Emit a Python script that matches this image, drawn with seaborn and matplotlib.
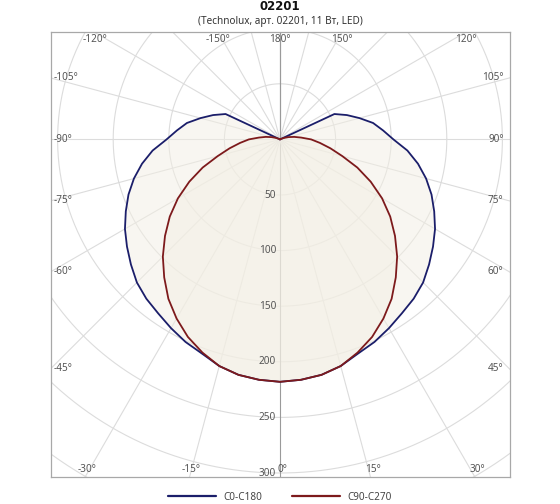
import numpy as np
import pandas as pd
import matplotlib
matplotlib.use("Agg")
import matplotlib.pyplot as plt
from matplotlib.lines import Line2D
import seaborn as sns

# ---------------- data ----------------
title = "02201"
subtitle = "(Technolux, арт. 02201, 11 Вт, LED)"
angles = list(range(0, 181, 5))  # gamma angle, degrees (0 = down)
c0_c180 = [218, 217, 215, 211, 205, 201, 196, 191, 187, 182, 175, 168, 161,
           153, 145, 136, 126, 115, 102, 93, 85, 74, 64, 54, 0, 0, 0, 0, 0,
           0, 0, 0, 0, 0, 0, 0, 0]
c90_c270 = [218, 217, 215, 211, 204, 196, 186, 175, 162, 149, 135, 121, 106,
            90, 74, 58, 46, 36, 28, 19, 13, 8, 4, 1, 0, 0, 0, 0, 0,
            0, 0, 0, 0, 0, 0, 0, 0]
series_names = ["C0-C180", "C90-C270"]
series_colors = ["#1b1e6a", "#7d1a1c"]
ring_values = [50, 100, 150, 200, 250, 300, 350]
ring_labels = [50, 100, 150, 200, 250, 300]
ray_angles = list(range(-180, 181, 15))
labeled_angles = [-150, -120, -105, -90, -75, -60, -45, -30, -15, 0,
                  15, 30, 45, 60, 75, 90, 105, 120, 150, 180]

# ---------------- figure ----------------
sns.set_style("white")
plt.rcParams["font.family"] = ["Noto Sans", "DejaVu Sans"]

W, H = 560, 504
fig = plt.figure(figsize=(W / 100, H / 100), dpi=100)
box_l, box_r, box_t, box_b = 50.7, 509.5, 32.3, 477.3
ax = fig.add_axes([box_l / W, (H - box_b) / H, (box_r - box_l) / W, (box_b - box_t) / H])

px = 1 / 1.112  # data units per pixel
ox, oy = 280.0, 139.4  # origin pixel
xmin, xmax = (box_l - ox) * px, (box_r - ox) * px
ymax, ymin = (oy - box_t) * px, (oy - box_b) * px
ax.set_xlim(xmin, xmax)
ax.set_ylim(ymin, ymax)

grid_c = "#dcdcdc"
# rings
t = np.linspace(0, 2 * np.pi, 721)
for r in ring_values:
    ax.plot(r * np.cos(t), r * np.sin(t), color=grid_c, lw=0.8, zorder=0)
# rays
far = 1000
for a in ray_angles:
    th = np.deg2rad(a)
    col = "#9a9a9a" if a in (0, 180, -180) else grid_c
    ax.plot([0, far * np.sin(th)], [0, -far * np.cos(th)], color=col, lw=0.8, zorder=0.5)

# curves
rows = []
for name, vals in zip(series_names, [c0_c180, c90_c270]):
    full_a = [-a for a in reversed(angles)] + angles[1:]
    full_i = list(reversed(vals)) + vals[1:]
    for a, i in zip(full_a, full_i):
        th = np.deg2rad(a)
        rows.append({"series": name, "x": i * np.sin(th), "y": -i * np.cos(th)})
df = pd.DataFrame(rows)

for name in series_names:
    d = df[df.series == name]
    ax.fill(d.x, d.y, color="#f3efe4", alpha=0.5, lw=0, zorder=1)

sns.lineplot(data=df, x="x", y="y", hue="series", palette=dict(zip(series_names, series_colors)),
             sort=False, estimator=None, lw=1.3, ax=ax, legend=False, zorder=3)

ax.set_xlabel("")
ax.set_ylabel("")
ax.set_xticks([])
ax.set_yticks([])
for s in ax.spines.values():
    s.set_color("#a8a8a8")
    s.set_linewidth(0.9)
    s.set_visible(True)

lab_c = "#555555"
fs = 7.2
# radial labels
for r in ring_labels:
    ax.text(-4 * px, -r, str(r), ha="right", va="center", fontsize=fs, color=lab_c, zorder=4)

# angle labels at ray / box intersection
for a in labeled_angles:
    th = np.deg2rad(a)
    dx, dy = np.sin(th), -np.cos(th)
    cand = []
    if dx > 1e-9:
        cand.append((xmax / dx, "r"))
    if dx < -1e-9:
        cand.append((xmin / dx, "l"))
    if dy > 1e-9:
        cand.append((ymax / dy, "t"))
    if dy < -1e-9:
        cand.append((ymin / dy, "b"))
    tt, edge = min(cand)
    x, y = tt * dx, tt * dy
    txt = f"{a}°"
    if edge == "l":
        ax.text(xmin + 2.5 * px, y, txt, ha="left", va="center", fontsize=fs, color=lab_c)
    elif edge == "r":
        ax.text(xmax - 6 * px, y, txt, ha="right", va="center", fontsize=fs, color=lab_c)
    elif edge == "t":
        ax.text(x, ymax - 7.7 * px, txt, ha="center", va="center", fontsize=fs, color=lab_c)
    else:
        ax.text(x + 2 * px, ymin + 7.3 * px, txt, ha="center", va="center", fontsize=fs, color=lab_c)

# titles
fig.text(0.5, 1 - 7 / H, title, ha="center", va="center", fontsize=8.5, fontweight="bold",
         color="#111111", family=["DejaVu Sans"])
fig.text(0.5, 1 - 21.5 / H, subtitle, ha="center", va="center", fontsize=7.2, color="#333333")

# legend
handles = [Line2D([0], [0], color=c, lw=1.6) for c in series_colors]
fig.legend(handles, series_names, loc="center", bbox_to_anchor=(0.5, 1 - 497 / H), ncol=2,
           frameon=False, fontsize=7.2, handlelength=4.8, handletextpad=0.7, columnspacing=3.0,
           labelcolor="#444444")

fig.savefig("out.png", dpi=100, facecolor="white")
